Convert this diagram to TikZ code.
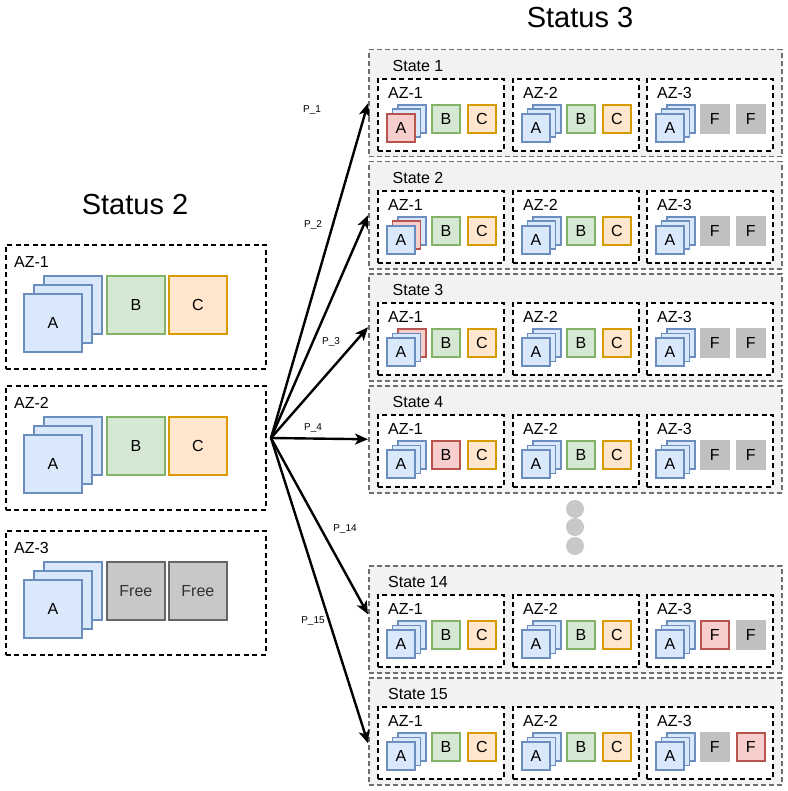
\documentclass[tikz,border=0pt]{standalone}
\usepackage{fontspec}
\setmainfont{Liberation Sans}
\usetikzlibrary{arrows.meta}
\definecolor{bfill}{HTML}{DAE8FC}\definecolor{bdraw}{HTML}{6C8EBF}
\definecolor{gfill}{HTML}{D5E8D4}\definecolor{gdraw}{HTML}{82B366}
\definecolor{ofill}{HTML}{FFE6CC}\definecolor{odraw}{HTML}{D79B00}
\definecolor{rfill}{HTML}{F8CECC}\definecolor{rdraw}{HTML}{B85450}
\definecolor{freefill}{HTML}{C8C8C8}\definecolor{freedraw}{HTML}{666666}
\definecolor{ffill}{HTML}{C0C0C0}
\definecolor{panelfill}{HTML}{F2F2F2}\definecolor{paneldraw}{HTML}{6E6E6E}
\definecolor{dotfill}{HTML}{C8C8C8}
\newcommand\smallstack[6]{%
 \node[#6,smallsq] (#1a3) at (#2+20,#3+55) {};
 \node[#5,smallsq] (#1a2) at (#2+14.5,#3+59.5) {};
 \node[#4,smallsq] (#1a1) at (#2+9,#3+64) {A};
}
\newcommand\statepanel[9]{%
 \node[panel] (#1) at (368,#2) {};
 \node[lbl] (#1lbl) at (418,#2+16.5) {State #3};
 \node[zonesmall] (#1z1) at (377,#2+29) {};
 \node[lbl,anchor=west] (#1z1lbl) at (388,#2+43.5) {AZ-1};
 \smallstack{#1z1}{377}{#2}{#4}{#5}{#6}
 \node[#7,smallsq] (#1z1b) at (431,#2+55) {B};
 \node[osq,smallsq] (#1z1c) at (467,#2+55) {C};
 \node[zonesmall] (#1z2) at (512,#2+29) {};
 \node[lbl,anchor=west] (#1z2lbl) at (523,#2+43.5) {AZ-2};
 \smallstack{#1z2}{512}{#2}{bsq}{bsq}{bsq}
 \node[gsq,smallsq] (#1z2b) at (566,#2+55) {B};
 \node[osq,smallsq] (#1z2c) at (602,#2+55) {C};
 \node[zonesmall] (#1z3) at (646,#2+29) {};
 \node[lbl,anchor=west] (#1z3lbl) at (657,#2+43.5) {AZ-3};
 \smallstack{#1z3}{646}{#2}{bsq}{bsq}{bsq}
 \node[#8,smallsq] (#1z3f1) at (700,#2+55) {F};
 \node[#9,smallsq] (#1z3f2) at (736,#2+55) {F};
}
\newcommand\bigzone[3]{%
 \node[zonebig] (#1) at (5,#2) {};
 \node[lbl,anchor=west] (#1lbl) at (14,#2+17.5) {#3};
 \node[bsq,bigsq] (#1a3) at (43,#2+31) {};
 \node[bsq,bigsq] (#1a2) at (33,#2+40) {};
 \node[bsq,bigsq] (#1a1) at (23,#2+49) {A};
}
\begin{document}
\begin{tikzpicture}[x=1pt,y=-1pt,
 txt/.style={font=\fontsize{16}{19}\selectfont},
 lbl/.style={txt,inner sep=0pt},
 title/.style={font=\fontsize{29}{34}\selectfont,inner sep=0pt},
 sq/.style={draw,line width=1.7pt,inner sep=0pt,anchor=north west,txt},
 bsq/.style={sq,fill=bfill,draw=bdraw},
 rsq/.style={sq,fill=rfill,draw=rdraw},
 gsq/.style={sq,fill=gfill,draw=gdraw},
 osq/.style={sq,fill=ofill,draw=odraw},
 fsq/.style={sq,fill=ffill,draw=ffill},
 freesq/.style={sq,fill=freefill,draw=freedraw,text=black!80},
 bigsq/.style={minimum size=58},
 smallsq/.style={minimum size=28},
 zonebig/.style={draw,line width=1.8pt,dash pattern=on 5pt off 3.5pt,anchor=north west,inner sep=0pt,minimum width=260,minimum height=124},
 zonesmall/.style={draw,fill=white,line width=1.8pt,dash pattern=on 5pt off 3.5pt,anchor=north west,inner sep=0pt,minimum width=126,minimum height=72},
 panel/.style={draw=paneldraw,fill=panelfill,line width=1.5pt,dash pattern=on 5pt off 3pt,anchor=north west,inner sep=0pt,minimum width=413,minimum height=107},
 arr/.style={line width=2.4pt,-{Stealth[length=13pt,width=11pt,inset=3.5pt]}},
 plbl/.style={font=\fontsize{10}{12}\selectfont,inner sep=0pt},
 dotc/.style={circle,fill=dotfill,inner sep=0pt,minimum size=18}]
\useasboundingbox (0,0) rectangle (787,791);
\node[title] (t2) at (135,205) {Status 2};
\node[title] (t3) at (580,18) {Status 3};
% left panel
\bigzone{L1}{244}{AZ-1}
\node[gsq,bigsq] (L1b) at (106,275) {B};
\node[osq,bigsq] (L1c) at (168,275) {C};
\bigzone{L2}{385}{AZ-2}
\node[gsq,bigsq] (L2b) at (106,416) {B};
\node[osq,bigsq] (L2c) at (168,416) {C};
\bigzone{L3}{530}{AZ-3}
\node[freesq,bigsq] (L3f1) at (106,561) {Free};
\node[freesq,bigsq] (L3f2) at (168,561) {Free};
% right panels
\statepanel{s1}{49}{1}{rsq}{bsq}{bsq}{gsq}{fsq}{fsq}
\statepanel{s2}{161}{2}{bsq}{rsq}{bsq}{gsq}{fsq}{fsq}
\statepanel{s3}{273}{3}{bsq}{bsq}{rsq}{gsq}{fsq}{fsq}
\statepanel{s4}{385}{4}{bsq}{bsq}{bsq}{rsq}{fsq}{fsq}
\statepanel{s14}{565}{14}{bsq}{bsq}{bsq}{gsq}{rsq}{fsq}
\statepanel{s15}{677}{15}{bsq}{bsq}{bsq}{gsq}{fsq}{rsq}
% dots
\node[dotc] (d1) at (575,509) {};
\node[dotc] (d2) at (575,527) {};
\node[dotc] (d3) at (575,546) {};
% arrows
\coordinate (src) at (271,438);
\draw[arr] (src) -- (s1.west);
\draw[arr] (src) -- (s2.west);
\draw[arr] (src) -- (s3.west);
\draw[arr] (src) -- (s4.west);
\draw[arr] (src) -- ([yshift=5pt]s14.west);
\draw[arr] (src) -- ([yshift=-12pt]s15.west);
\node[plbl] (p1) at (312,110) {P\_1};
\node[plbl] (p2) at (313,225) {P\_2};
\node[plbl] (p3) at (331,342) {P\_3};
\node[plbl] (p4) at (313,428) {P\_4};
\node[plbl] (p14) at (345,529) {P\_14};
\node[plbl] (p15) at (313,621) {P\_15};
\end{tikzpicture}
\end{document}
